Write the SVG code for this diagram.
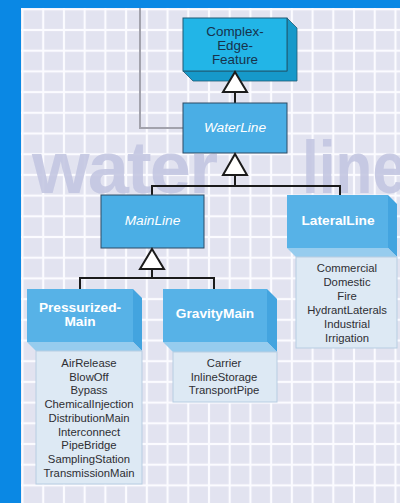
<svg xmlns="http://www.w3.org/2000/svg" width="400" height="503" viewBox="0 0 400 503">
  <defs>
    <pattern id="grid" x="22.5" y="9.3" width="20.72" height="20.7" patternUnits="userSpaceOnUse">
      <rect width="20.72" height="20.7" fill="#e2e3f0"/>
      <rect x="-1.1" y="0" width="2.2" height="20.7" fill="#fbfbff"/>
      <rect x="19.62" y="0" width="2.2" height="20.7" fill="#fbfbff"/>
      <rect x="0" y="-1.1" width="20.72" height="2.2" fill="#fbfbff"/>
      <rect x="0" y="19.6" width="20.72" height="2.2" fill="#fbfbff"/>
    </pattern>
  </defs>
  <style>
    .conn { stroke: #1b1b1b; stroke-width: 2; fill: none; }
    .tri { stroke: #1b1b1b; stroke-width: 2; fill: #ffffff; stroke-linejoin: miter; }
    .gray { stroke: #a2a2ac; stroke-width: 2; fill: none; }
    .flat { fill: #4aaee5; stroke: #2c4a64; stroke-width: 1; }
    .cefFront { fill: #22b5e7; stroke: #1f5a74; stroke-width: 1; }
    .cefSide { fill: #1699ca; stroke: #1f5a74; stroke-width: 0.8; }
    .front { fill: #57b2e7; }
    .side { fill: #43a4df; }
    .bottom { fill: #96ccee; }
    .attr { fill: #dde9f4; stroke: #b7cde2; stroke-width: 1; }
    .title { font-family: "Liberation Sans", Arial, sans-serif; font-size: 13.7px; font-weight: bold; fill: #ffffff; text-anchor: middle; }
    .ital { font-family: "Liberation Sans", Arial, sans-serif; font-size: 13.7px; font-style: italic; fill: #ffffff; text-anchor: middle; }
    .cef { font-family: "Liberation Sans", Arial, sans-serif; font-size: 13.4px; fill: #17324c; text-anchor: middle; }
    .item { font-family: "Liberation Sans", Arial, sans-serif; font-size: 11.3px; fill: #2e2e33; text-anchor: middle; }
    .mark { font-family: "Liberation Sans", Arial, sans-serif; font-size: 74px; font-weight: bold; fill: #c4c7e2; opacity: 0.9; }
  </style>

  <!-- frame and grid paper -->
  <rect x="0" y="0" width="400" height="503" fill="#0a88e4"/>
  <rect x="21" y="8" width="379" height="495" fill="url(#grid)"/>

  <!-- background lettering -->
  <text class="mark" x="32" y="193" textLength="186" lengthAdjust="spacing">water</text>
  <text class="mark" x="302" y="193" textLength="104" lengthAdjust="spacingAndGlyphs">line</text>

  <!-- connectors -->
  <g id="connectors">
    <polyline class="gray" points="140,8 140,128 183,128"/>
    <line class="conn" x1="235" y1="92" x2="235" y2="103"/>
    <polyline class="conn" points="235,175 235,186"/>
    <polyline class="conn" points="152,195 152,186 340,186 340,195"/>
    <polyline class="conn" points="152,269 152,278"/>
    <polyline class="conn" points="80,289 80,278 214,278 214,289"/>
  </g>

  <!-- ComplexEdgeFeature -->
  <g id="complex-edge-feature">
    <polygon class="cefSide" points="287,18 297,28 297,81 193,81 183,71 287,71"/>
    <rect class="cefFront" x="183" y="18" width="104" height="53"/>
    <text class="cef" x="235" y="36">Complex-</text>
    <text class="cef" x="235" y="50">Edge-</text>
    <text class="cef" x="235" y="64">Feature</text>
  </g>

  <!-- WaterLine -->
  <g id="water-line">
    <rect class="flat" x="183" y="103" width="104" height="50"/>
    <text class="ital" x="235" y="132">WaterLine</text>
  </g>

  <!-- MainLine -->
  <g id="main-line">
    <rect class="flat" x="101" y="195" width="103" height="53"/>
    <text class="ital" x="152.5" y="225">MainLine</text>
  </g>

  <!-- LateralLine -->
  <g id="lateral-line">
    <polygon class="side" points="388,195 397,204 397,257 388,248"/>
    <polygon class="bottom" points="287,248 388,248 397,257 296,257"/>
    <rect class="front" x="287" y="195" width="101" height="53"/>
    <rect class="attr" x="296" y="257" width="101" height="91"/>
    <text class="title" x="338" y="225">LateralLine</text>
    <text class="item" x="347" y="272">Commercial</text>
    <text class="item" x="347" y="286">Domestic</text>
    <text class="item" x="347" y="300">Fire</text>
    <text class="item" x="347" y="314">HydrantLaterals</text>
    <text class="item" x="347" y="328">Industrial</text>
    <text class="item" x="347" y="342">Irrigation</text>
  </g>

  <!-- PressurizedMain -->
  <g id="pressurized-main">
    <polygon class="side" points="133,289 142,298 142,351 133,342"/>
    <polygon class="bottom" points="27,342 133,342 142,351 36,351"/>
    <rect class="front" x="27" y="289" width="106" height="53"/>
    <rect class="attr" x="36" y="351" width="106" height="133"/>
    <text class="title" x="80" y="312">Pressurized-</text>
    <text class="title" x="80" y="326">Main</text>
    <text class="item" x="89" y="367">AirRelease</text>
    <text class="item" x="89" y="380.7">BlowOff</text>
    <text class="item" x="89" y="394.4">Bypass</text>
    <text class="item" x="89" y="408.1">ChemicalInjection</text>
    <text class="item" x="89" y="421.8">DistributionMain</text>
    <text class="item" x="89" y="435.5">Interconnect</text>
    <text class="item" x="89" y="449.2">PipeBridge</text>
    <text class="item" x="89" y="462.9">SamplingStation</text>
    <text class="item" x="89" y="476.6">TransmissionMain</text>
  </g>

  <!-- GravityMain -->
  <g id="gravity-main">
    <polygon class="side" points="267,289 277,299 277,352 267,342"/>
    <polygon class="bottom" points="163,342 267,342 277,352 173,352"/>
    <rect class="front" x="163" y="289" width="104" height="53"/>
    <rect class="attr" x="173" y="352" width="104" height="50"/>
    <text class="title" x="215" y="318">GravityMain</text>
    <text class="item" x="224" y="367">Carrier</text>
    <text class="item" x="224" y="380.5">InlineStorage</text>
    <text class="item" x="224" y="394">TransportPipe</text>
  </g>

  <!-- generalization arrowheads -->
  <g id="arrowheads">
    <polygon class="tri" points="235,72 247,92 223,92"/>
    <polygon class="tri" points="235,154 247,175 223,175"/>
    <polygon class="tri" points="152,249 164,269 140,269"/>
  </g>
</svg>
